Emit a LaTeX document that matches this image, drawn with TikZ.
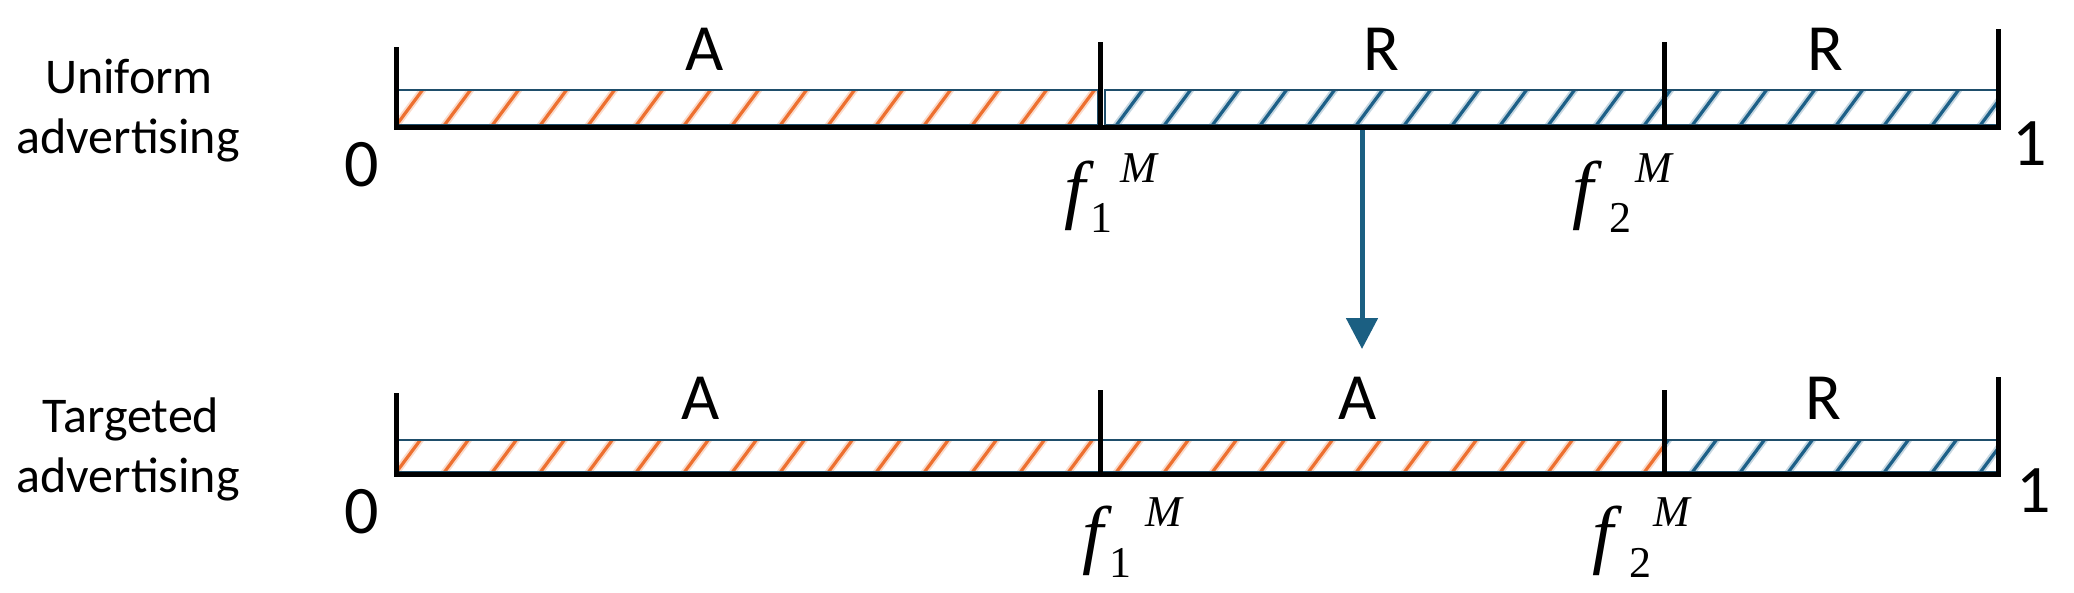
\documentclass[tikz,border=0pt]{standalone}
\usepackage{fontspec}
\setmainfont{Carlito}
\newfontfamily\tms{Liberation Serif}
\usetikzlibrary{arrows.meta}
\definecolor{hatchO}{HTML}{ED7030}
\definecolor{hatchB}{HTML}{1D6088}
\definecolor{edgeB}{HTML}{1F4E6B}
\definecolor{arrB}{HTML}{1B5F82}
\newcommand\hatchband[6]{%
  \begin{scope}
    \clip (#1,#3) rectangle (#2,#4);
    \foreach \k in {-1,...,34}{%
      \pgfmathsetmacro\xb{#6+48*\k}%
      \draw[line width=7pt,#5!25] (\xb,#4+2) -- ++(29,-39);
      \draw[line width=3.2pt,#5] (\xb,#4+2) -- ++(29,-39);
    }
  \end{scope}}
\tikzset{
  seg/.style={font=\fontsize{66}{70}\selectfont, inner sep=0, anchor=base},
  num/.style={font=\fontsize{68}{72}\selectfont, inner sep=0, anchor=base},
  side/.style={font=\fontsize{50}{60}\selectfont, inner sep=0, anchor=base},
  ff/.style={font=\tms\itshape\fontsize{76}{80}\selectfont, inner sep=0, anchor=base},
  fsub/.style={font=\tms\fontsize{44}{50}\selectfont, inner sep=0, anchor=base},
  fsup/.style={font=\tms\itshape\fontsize{44}{50}\selectfont, inner sep=0, anchor=base},
  edge/.style={line width=1.5pt, edgeB},
  base/.style={line width=4.5pt, black},
  endtick/.style={line width=5pt, black},
  midtick/.style={line width=5pt, black},
  arr/.style={line width=5pt, arrB, -{Triangle[width=31pt,length=31pt]}},
}
\begin{document}
\begin{tikzpicture}[x=1pt,y=-1pt]
\useasboundingbox (0,0) rectangle (2074,592);

% ---------- top row ----------
\hatchband{396}{1098}{90}{125}{hatchO}{395}
\hatchband{1105}{1998}{90}{125}{hatchB}{395}
\draw[edge] (396,90) rectangle (1098,124.5);
\draw[edge] (1105,90) rectangle (1998,124.5);
\draw[base] (394,127.5) -- (2000,127.5);
\draw[endtick] (396,47) -- (396,129.75);
\draw[midtick] (1100,42) -- (1100,129.75);
\draw[midtick] (1664,42) -- (1664,129.75);
\draw[endtick] (1998,29) -- (1998,129.75);

\node[seg] (tA) at (705,70) {A};
\node[seg] (tR1) at (1381,70) {R};
\node[seg] (tR2) at (1825,70) {R};
\node[num] (t0) at (362,186) {0};
\node[num] (t1) at (2030,165) {1};

\node[side] (tS1) at (129,93) {Uniform};
\node[side] (tS2) at (128,153) {advertising};

\node[ff] (tf1) at (1075,214) {f};
\node[fsub] (tf1s) at (1101,232) {1};
\node[fsup] (tf1m) at (1139,182) {M};
\node[ff] (tf2) at (1583,214) {f};
\node[fsub] (tf2s) at (1620,232) {2};
\node[fsup] (tf2m) at (1654,182) {M};

% ---------- bottom row ----------
\hatchband{396}{1664}{440}{472}{hatchO}{395}
\hatchband{1664}{1998}{440}{472}{hatchB}{395}
\draw[edge] (396,440) rectangle (1998,471.5);
\draw[base] (394,474.5) -- (2000,474.5);
\draw[endtick] (396,393) -- (396,476.75);
\draw[midtick] (1100,390) -- (1100,476.75);
\draw[midtick] (1664,390) -- (1664,476.75);
\draw[endtick] (1998,377) -- (1998,476.75);

\node[seg] (bA1) at (701,419) {A};
\node[seg] (bA2) at (1358,419) {A};
\node[seg] (bR) at (1823,419) {R};
\node[num] (b0) at (362,533) {0};
\node[num] (b1) at (2034,512) {1};

\node[side] (bS1) at (131,432) {Targeted};
\node[side] (bS2) at (128,492) {advertising};

\node[ff] (bf1) at (1093,559) {f};
\node[fsub] (bf1s) at (1120,577) {1};
\node[fsup] (bf1m) at (1164,526) {M};
\node[ff] (bf2) at (1603,559) {f};
\node[fsub] (bf2s) at (1640,577) {2};
\node[fsup] (bf2m) at (1672,526) {M};

% ---------- arrow ----------
\coordinate (arrS) at (1362,129.75);
\coordinate (arrT) at (1362,349);
\draw[arr] (arrS) -- (arrT);
\end{tikzpicture}
\end{document}
